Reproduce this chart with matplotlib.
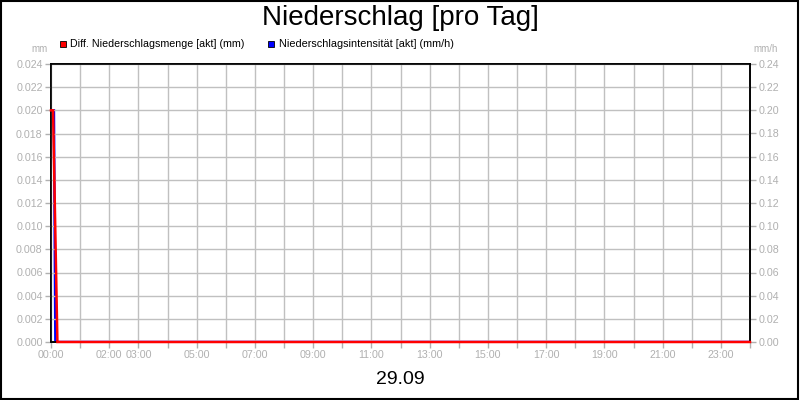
import matplotlib
matplotlib.use("Agg")
import matplotlib.pyplot as plt

plt.rcParams['font.family'] = ['Liberation Sans', 'DejaVu Sans']

# hours after midnight
menge_hours = [0.0, 0.07, 0.22, 24.0]
menge_mm = [0.020, 0.020, 0.0, 0.0]
intens_hours = [0.0, 0.10, 0.15, 24.0]
intens_mmh = [0.20, 0.20, 0.0, 0.0]

left_ticks = [0.000, 0.002, 0.004, 0.006, 0.008, 0.010, 0.012,
              0.014, 0.016, 0.018, 0.020, 0.022, 0.024]
right_ticks = [0.00, 0.02, 0.04, 0.06, 0.08, 0.10, 0.12,
               0.14, 0.16, 0.18, 0.20, 0.22, 0.24]
hour_labels = {0: '00:00', 2: '02:00', 3: '03:00', 5: '05:00', 7: '07:00',
               9: '09:00', 11: '11:00', 13: '13:00', 15: '15:00',
               17: '17:00', 19: '19:00', 21: '21:00', 23: '23:00'}

gray = '#b0b0b0'
grid_c = '#c0c0c0'

fig = plt.figure(figsize=(8, 4), dpi=100)
fig.patch.set_facecolor('white')
ax = fig.add_axes([0.06375, 0.145, 0.87375, 0.695])
ax2 = ax.twinx()

ax.set_xlim(0, 24)
ax.set_ylim(0, 0.024)
ax2.set_ylim(0, 0.24)

ax.set_zorder(ax2.get_zorder() + 1)
ax.patch.set_visible(False)

ax2.plot(intens_hours, intens_mmh, color='#0000ff', lw=1.8, solid_joinstyle='miter')
ax.plot(menge_hours, menge_mm, color='#ff0000', lw=1.8, solid_joinstyle='miter',
        zorder=3, clip_on=False)

hours = list(range(0, 25))
ax.set_xticks(hours)
ax.set_xticklabels([hour_labels.get(h, '') for h in hours])
ax.set_yticks(left_ticks)
ax.set_yticklabels(['%.3f' % v for v in left_ticks])
ax2.set_yticks(right_ticks)
ax2.set_yticklabels(['%.2f' % v for v in right_ticks])

ax.grid(True, color=grid_c, lw=1)
ax.tick_params(axis='both', colors=gray, labelcolor=gray, labelsize=7.7,
               length=4, width=1, pad=2)
ax2.tick_params(axis='y', colors=gray, labelcolor=gray, labelsize=7.7,
                length=4, width=1, pad=2)
for a in (ax, ax2):
    for s in a.spines.values():
        s.set_color('black')
        s.set_linewidth(1.2)

fig.text(0.5, 0.955, 'Niederschlag [pro Tag]', ha='center', va='center', fontsize=20)
fig.text(0.5, 0.05, '29.09', ha='center', va='center', fontsize=14)
fig.text(0.05, 0.877, 'mm', ha='center', va='center', fontsize=7, color=gray)
fig.text(0.957, 0.877, 'mm/h', ha='center', va='center', fontsize=7, color=gray)

# legend
fig.patches.append(plt.Rectangle((0.0755, 0.8825), 0.0075, 0.015, transform=fig.transFigure,
                                 facecolor='#ff0000', edgecolor='black', lw=0.6))
fig.text(0.087, 0.89, 'Diff. Niederschlagsmenge [akt] (mm)', ha='left', va='center',
         fontsize=7.7, color='black')
fig.patches.append(plt.Rectangle((0.3355, 0.8825), 0.0075, 0.015, transform=fig.transFigure,
                                 facecolor='#0000ff', edgecolor='black', lw=0.6))
fig.text(0.3485, 0.89, 'Niederschlagsintensität [akt] (mm/h)', ha='left', va='center',
         fontsize=7.8, color='black')

# outer frame
fig.patches.append(plt.Rectangle((0.001, 0.002), 0.997, 0.996, transform=fig.transFigure,
                                 facecolor='none', edgecolor='black', lw=1.5))

fig.savefig('out.png', dpi=100)
